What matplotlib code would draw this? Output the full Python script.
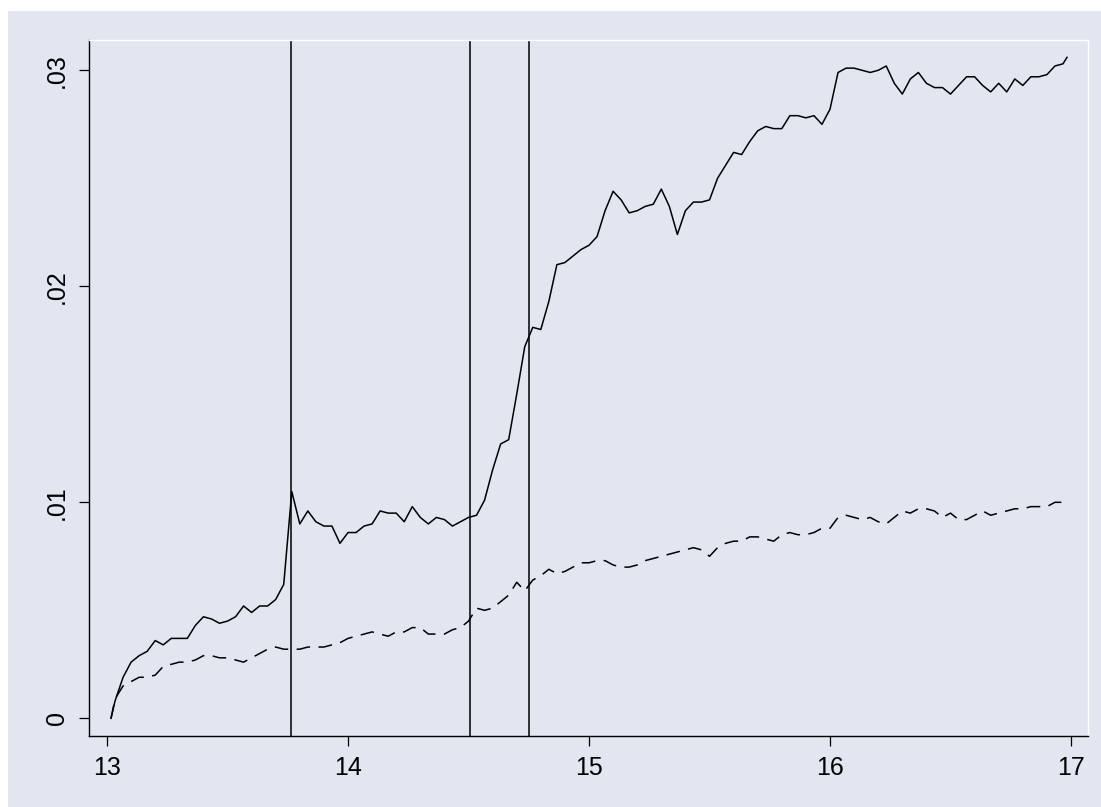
import numpy as np
import matplotlib
matplotlib.use('Agg')
import matplotlib.pyplot as plt
from matplotlib.patches import Rectangle

plt.rcParams['font.family'] = ['Liberation Sans', 'DejaVu Sans']

# minutes after 13:00
minutes = [1] + list(range(2, 240, 2)) + [239]

solid = [0.0, 0.0008, 0.0019, 0.0026, 0.0029, 0.0031, 0.0036, 0.0034, 0.0037, 0.0037,
         0.0037, 0.0043, 0.0047, 0.0046, 0.0044, 0.0045, 0.0047, 0.0052, 0.0049, 0.0052,
         0.0052, 0.0055, 0.0062, 0.0105, 0.0090, 0.0096, 0.0091, 0.0089, 0.0089, 0.0081,
         0.0086, 0.0086, 0.0089, 0.0090, 0.0096, 0.0095, 0.0095, 0.0091, 0.0098, 0.0093,
         0.0090, 0.0093, 0.0092, 0.0089, 0.0091, 0.0093, 0.0094, 0.0101, 0.0115, 0.0127,
         0.0129, 0.0150, 0.0172, 0.0181, 0.0180, 0.0193, 0.0210, 0.0211, 0.0214, 0.0217,
         0.0219, 0.0223, 0.0235, 0.0244, 0.0240, 0.0234, 0.0235, 0.0237, 0.0238, 0.0245,
         0.0237, 0.0224, 0.0235, 0.0239, 0.0239, 0.0240, 0.0250, 0.0256, 0.0262, 0.0261,
         0.0267, 0.0272, 0.0274, 0.0273, 0.0273, 0.0279, 0.0279, 0.0278, 0.0279, 0.0275,
         0.0282, 0.0299, 0.0301, 0.0301, 0.0300, 0.0299, 0.0300, 0.0302, 0.0294, 0.0289,
         0.0296, 0.0299, 0.0294, 0.0292, 0.0292, 0.0289, 0.0293, 0.0297, 0.0297, 0.0293,
         0.0290, 0.0294, 0.0290, 0.0296, 0.0293, 0.0297, 0.0297, 0.0298, 0.0302, 0.0303,
         0.0306]

dashed = [0.0, 0.0009, 0.0015, 0.0017, 0.0019, 0.0019, 0.0020, 0.0024, 0.0025, 0.0026,
          0.0026, 0.0027, 0.0029, 0.0029, 0.0028, 0.0028, 0.0027, 0.0026, 0.0028, 0.0030,
          0.0032, 0.0033, 0.0032, 0.0032, 0.0032, 0.0033, 0.0033, 0.0033, 0.0034, 0.0035,
          0.0037, 0.0038, 0.0039, 0.0040, 0.0039, 0.0038, 0.0040, 0.0040, 0.0042, 0.0042,
          0.0039, 0.0039, 0.0039, 0.0041, 0.0042, 0.0045, 0.0051, 0.0050, 0.0051, 0.0054,
          0.0057, 0.0063, 0.0059, 0.0064, 0.0066, 0.0069, 0.0067, 0.0068, 0.0070, 0.0072,
          0.0072, 0.0073, 0.0073, 0.0071, 0.0070, 0.0070, 0.0071, 0.0073, 0.0074, 0.0075,
          0.0076, 0.0077, 0.0078, 0.0079, 0.0078, 0.0075, 0.0079, 0.0081, 0.0082, 0.0082,
          0.0084, 0.0084, 0.0083, 0.0082, 0.0085, 0.0086, 0.0085, 0.0085, 0.0086, 0.0088,
          0.0088, 0.0093, 0.0094, 0.0093, 0.0092, 0.0093, 0.0091, 0.0090, 0.0093, 0.0096,
          0.0095, 0.0097, 0.0097, 0.0096, 0.0093, 0.0095, 0.0092, 0.0092, 0.0094, 0.0096,
          0.0094, 0.0095, 0.0096, 0.0097, 0.0097, 0.0098, 0.0098, 0.0098, 0.0100, 0.0100,
          0.0100]

events = [13.762, 14.508, 14.749]

x_ticks = [13, 14, 15, 16, 17]
y_ticks = [0, 0.01, 0.02, 0.03]
y_labels = ['0', '.01', '.02', '.03']

bg = '#e1e6f0'
t = [13 + m / 60 for m in minutes]

fig = plt.figure(figsize=(11.01, 8.07), dpi=100, facecolor='white')
fig.patches.append(Rectangle((8 / 1101, 0), 1, 1 - 11 / 807, transform=fig.transFigure,
                             facecolor=bg, edgecolor='none', zorder=-10))
ax = fig.add_axes([89 / 1101, (807 - 736) / 807, (1088 - 89) / 1101, (736 - 40) / 807])
ax.set_facecolor(bg)

ax.plot(t, solid, color='black', lw=1.1)
ax.plot(t, dashed, color='black', lw=1.1, dashes=(9, 5.5))
for e in events:
    ax.axvline(e, color='black', lw=1.1)

ax.set_xlim(12.9253, 17.0705)
ax.set_ylim(-0.000819, 0.031403)
ax.set_xticks(x_ticks)
ax.set_xticklabels([str(v) for v in x_ticks])
ax.set_yticks(y_ticks)
ax.set_yticklabels(y_labels, rotation=90, va='center')
ax.tick_params(direction='out', length=7.5, width=0.9, labelsize=18, pad=7, colors='black')

for s in ['top', 'right']:
    ax.spines[s].set_color('white')
    ax.spines[s].set_linewidth(1)
for s in ['left', 'bottom']:
    ax.spines[s].set_color('black')
    ax.spines[s].set_linewidth(1)

fig.savefig('out.png', dpi=100, facecolor='white')
